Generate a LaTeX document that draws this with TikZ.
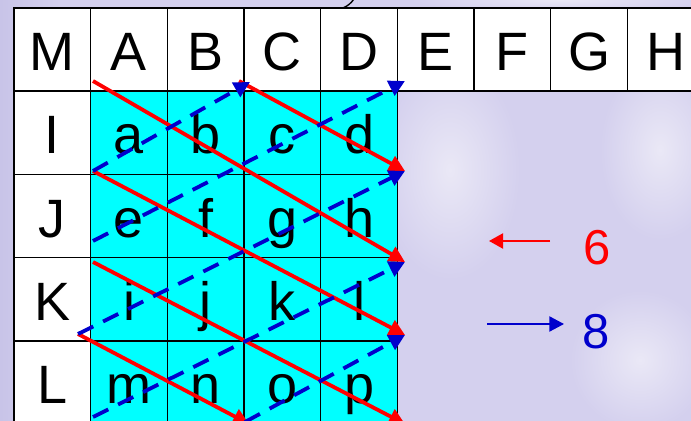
\documentclass[tikz,border=0pt]{standalone}
\usepackage{fontspec}
\setmainfont{Liberation Sans}
\usetikzlibrary{arrows.meta}
\definecolor{bglav}{RGB}{212,208,238}
\definecolor{bgdark}{RGB}{200,196,232}
\definecolor{bglight}{RGB}{234,232,246}
\definecolor{cellcyan}{RGB}{0,255,255}
\definecolor{ared}{RGB}{255,0,0}
\definecolor{ablue}{RGB}{0,0,204}
\begin{document}
\begin{tikzpicture}[x=0.5pt,y=-0.5pt,
  cell/.style={draw=black, line width=0.75pt, rectangle, minimum width=38.33pt,
    minimum height=41.625pt, inner sep=0pt, font=\fontsize{27}{27}\selectfont,
    text height=21pt, text depth=0pt, anchor=center},
  hdr/.style={cell, fill=white},
  dat/.style={cell, fill=cellcyan},
  tipA/.style={-{Triangle[length=8pt,width=8pt]}},
  redln/.style={draw=ared, line width=1.9pt, tipA},
  blueln/.style={draw=ablue, line width=1.9pt, dash pattern=on 8.5pt off 5.5pt, tipA},
  num/.style={inner sep=0pt, font=\fontsize{24.5}{24.5}\selectfont},
]
\useasboundingbox (0,0) rectangle (691,421);
\clip (0,0) rectangle (691,421);
% background
\fill[bglav] (0,0) rectangle (691,421);
\shade[left color=bgdark, right color=bglav] (0,0) rectangle (60,421);
\shade[inner color=bglight, outer color=bglav] (450,170) ellipse (70 and 110);
\shade[inner color=bglight, outer color=bglav] (660,150) ellipse (60 and 90);
\shade[inner color=bglight, outer color=bglav] (640,360) ellipse (70 and 70);
\shade[inner color=bglight, outer color=bglav] (560,0) ellipse (150 and 12);
% header row and row labels
\foreach \t [count=\i from 0] in {M,A,B,C,D,E,F,G,H}
  \node[hdr] (h\t) at ({14+76.67*(\i+0.5)},49.6) {\t};
\foreach \t [count=\j from 1] in {I,J,K,L}
  \node[hdr] (r\t) at ({14+76.67*0.5},{8+83.25*(\j+0.5)}) {\t};
% data cells
\foreach \row [count=\j from 1] in {{a,b,c,d},{e,f,g,h},{i,j,k,l},{m,n,o,p}}
  \foreach \t [count=\i from 1] in \row
    \node[dat] (d\t) at ({14+76.67*(\i+0.5)},{8+83.25*(\j+0.5)}) {\t};
% junction coordinates
\coordinate (s1) at (93,81);
\coordinate (s2) at (93,171);
\coordinate (s3) at (93,241);
\coordinate (s4) at (93,262);
\coordinate (s5) at (78,334);
\coordinate (s6) at (93,417);
\coordinate (r0) at (239,81);
\coordinate (t0) at (250,82);
\coordinate (t1) at (405,81);
\coordinate (e1) at (405,171);
\coordinate (e2) at (405,262);
\coordinate (e3) at (405,335);
\coordinate (e4) at (405,424);
\coordinate (b0) at (245,422);
\coordinate (b1) at (249,424);
% red diagonals
\draw[redln] (r0) -- (e1);
\draw[redln] (s1) -- (e2);
\draw[redln] (s2) -- (e3);
\draw[redln] (s4) -- (e4);
\draw[redln] (s5) -- (b1);
% blue dashed diagonals
\draw[blueln] (s2) -- (t0);
\draw[blueln] (s3) -- (t1);
\draw[blueln] (s5) -- (e1);
\draw[blueln] (s6) -- (e2);
\draw[blueln] (b0) -- (e3);
% legend
\node[num, text=ared] (six) at (597.5,247.5) {6};
\node[num, text=ablue] (eight) at (596,332) {8};
\coordinate (l6a) at (550,241);
\coordinate (l6b) at (489,241);
\coordinate (l8a) at (487,324);
\coordinate (l8b) at (564,324);
\draw[ared, line width=1pt, -{Triangle[length=7pt,width=7.5pt]}] (l6a) -- (l6b);
\draw[ablue, line width=1pt, -{Triangle[length=7.3pt,width=7.5pt]}] (l8a) -- (l8b);
% fragment of a curve at the top
\draw[line width=0.7pt] (343,8) .. controls (348,6) and (351,3) .. (354,-1);
\end{tikzpicture}
\end{document}
